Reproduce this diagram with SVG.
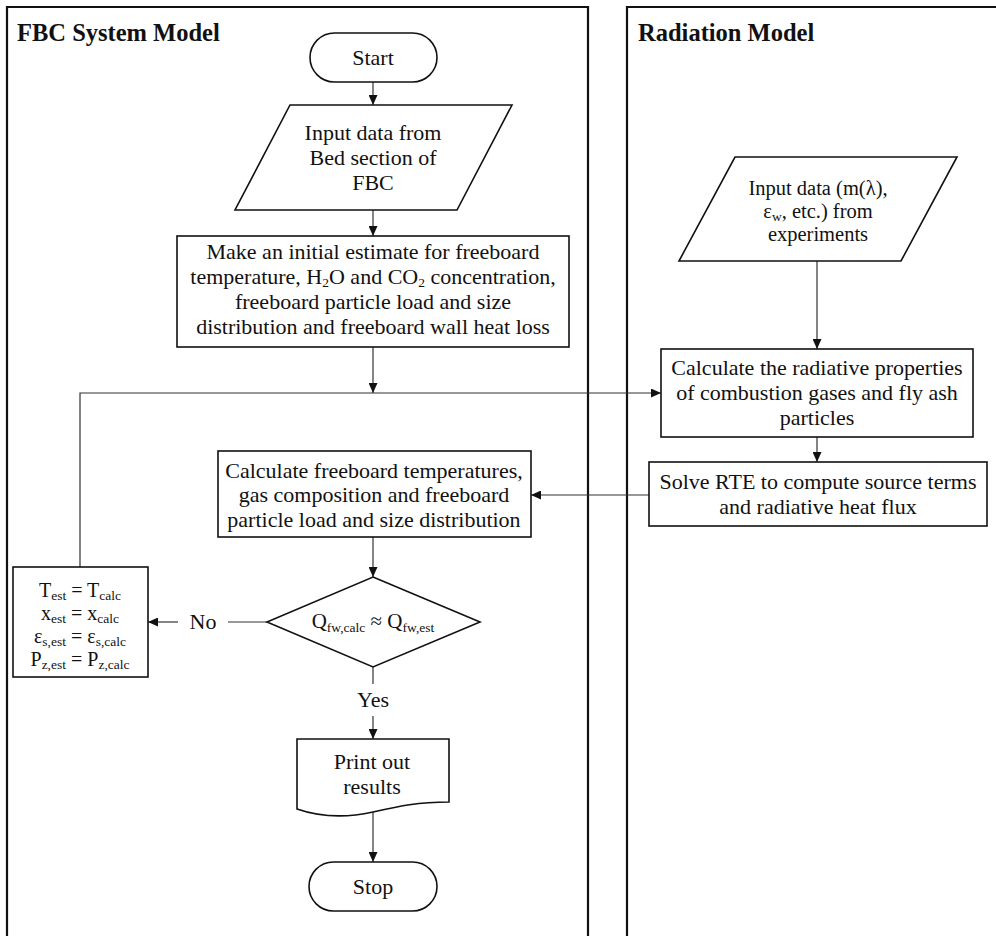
<svg xmlns="http://www.w3.org/2000/svg" width="996" height="936" viewBox="0 0 996 936">
  <defs>
    <marker id="arrow" markerUnits="userSpaceOnUse" markerWidth="10" markerHeight="9" refX="10" refY="4.5" orient="auto">
      <path d="M0,0 L10,4.5 L0,9 z" fill="#111"/>
    </marker>
    <style>
      text { font-family: "Liberation Serif", "Times New Roman", serif; fill: #111; }
      .t { font-size: 22px; text-anchor: middle; }
      .s { font-size: 20.5px; text-anchor: middle; }
      .m { font-size: 21px; text-anchor: middle; }
      .v { font-size: 20px; text-anchor: middle; }
      .sub { font-size: 13.5px; }
      .title { font-size: 24.5px; font-weight: bold; }
      .panel { fill: none; stroke: #111; stroke-width: 2.2; }
      .shape { fill: #fff; stroke: #111; stroke-width: 1.6; }
      .conn { fill: none; stroke: #333; stroke-width: 1.2; }
      .arr { marker-end: url(#arrow); }
    </style>
  </defs>

  <rect width="996" height="936" fill="#fff"/>

  <!-- Swimlane panels (open at the bottom) -->
  <g id="panel-fbc">
    <path class="panel" d="M7,936 V7 H588 V936"/>
    <text class="title" x="17" y="41">FBC System Model</text>
  </g>
  <g id="panel-radiation">
    <path class="panel" d="M627,936 V7 H996"/>
    <text class="title" x="638" y="41">Radiation Model</text>
  </g>

  <!-- Connectors -->
  <g id="connectors">
    <path class="conn arr" d="M373,82 V105"/>
    <path class="conn arr" d="M373,210 V236"/>
    <path class="conn arr" d="M373,347 V393"/>
    <path class="conn arr" d="M80,567 V393 H661"/>
    <path class="conn arr" d="M817,261 V349"/>
    <path class="conn arr" d="M817,437 V462"/>
    <path class="conn arr" d="M649,495 H531"/>
    <path class="conn arr" d="M373,537 V577"/>
    <path class="conn" d="M267,622 H228"/>
    <path class="conn arr" d="M178,622 H148"/>
    <text class="t" x="203" y="629">No</text>
    <path class="conn" d="M373,667 V684"/>
    <text class="t" x="373" y="707">Yes</text>
    <path class="conn arr" d="M373,716 V739"/>
    <path class="conn arr" d="M373,812 V862"/>
  </g>

  <!-- FBC system model nodes -->
  <g id="start">
    <rect class="shape" x="310" y="33" width="127" height="49" rx="24.5"/>
    <text class="t" x="373" y="65">Start</text>
  </g>

  <g id="input-bed">
    <path class="shape" d="M290,105 H512 L457,210 H235 Z"/>
    <text class="t" x="373" y="140">Input data from</text>
    <text class="t" x="373" y="165">Bed section of</text>
    <text class="t" x="373" y="190">FBC</text>
  </g>

  <g id="initial-estimate">
    <rect class="shape" x="177" y="236" width="392" height="111"/>
    <text class="t" x="373" y="259">Make an initial estimate for freeboard</text>
    <text class="t" x="373" y="284">temperature, H<tspan class="sub" dy="3">2</tspan><tspan dy="-3">O and CO</tspan><tspan class="sub" dy="3">2</tspan><tspan dy="-3"> concentration,</tspan></text>
    <text class="t" x="373" y="309">freeboard particle load and size</text>
    <text class="t" x="373" y="334">distribution and freeboard wall heat loss</text>
  </g>

  <g id="calc-freeboard">
    <rect class="shape" x="218" y="451" width="313" height="86"/>
    <text class="t" x="374" y="478">Calculate freeboard temperatures,</text>
    <text class="t" x="374" y="502">gas composition and freeboard</text>
    <text class="t" x="374" y="527">particle load and size distribution</text>
  </g>

  <g id="convergence">
    <path class="shape" d="M373,577 L480,622 L373,667 L267,622 Z"/>
    <text class="m" x="373" y="628">Q<tspan class="sub" dy="4">fw,calc</tspan><tspan dy="-4"> ≈ Q</tspan><tspan class="sub" dy="4">fw,est</tspan></text>
  </g>

  <g id="update-estimates">
    <rect class="shape" x="13" y="567" width="135" height="110"/>
    <text class="v" x="80" y="597">T<tspan class="sub" dy="3">est</tspan><tspan dy="-3"> = T</tspan><tspan class="sub" dy="3">calc</tspan></text>
    <text class="v" x="80" y="620">x<tspan class="sub" dy="3">est</tspan><tspan dy="-3"> = x</tspan><tspan class="sub" dy="3">calc</tspan></text>
    <text class="v" x="80" y="643">ε<tspan class="sub" dy="3">s,est</tspan><tspan dy="-3"> = ε</tspan><tspan class="sub" dy="3">s,calc</tspan></text>
    <text class="v" x="80" y="666">P<tspan class="sub" dy="3">z,est</tspan><tspan dy="-3"> = P</tspan><tspan class="sub" dy="3">z,calc</tspan></text>
  </g>

  <g id="print-results">
    <path class="shape" d="M297,739 H449 V802 C418,802 400,806 373,812 C346,818 320,817 297,809 Z"/>
    <text class="t" x="372" y="769">Print out</text>
    <text class="t" x="372" y="794">results</text>
  </g>

  <g id="stop">
    <rect class="shape" x="309" y="862" width="128" height="49" rx="24.5"/>
    <text class="t" x="373" y="894">Stop</text>
  </g>

  <!-- Radiation model nodes -->
  <g id="input-experiments">
    <path class="shape" d="M735,157 H957 L901,261 H679 Z"/>
    <text class="s" x="818" y="195">Input data (m(λ),</text>
    <text class="s" x="818" y="218">ε<tspan class="sub" dy="3">w</tspan><tspan dy="-3">, etc.) from</tspan></text>
    <text class="s" x="818" y="241">experiments</text>
  </g>

  <g id="radiative-properties">
    <rect class="shape" x="661" y="349" width="312" height="88"/>
    <text class="t" x="817" y="375">Calculate the radiative properties</text>
    <text class="t" x="817" y="400">of combustion gases and fly ash</text>
    <text class="t" x="817" y="425">particles</text>
  </g>

  <g id="solve-rte">
    <rect class="shape" x="649" y="462" width="338" height="64"/>
    <text class="t" x="818" y="489">Solve RTE to compute source terms</text>
    <text class="t" x="818" y="514">and radiative heat flux</text>
  </g>
</svg>
